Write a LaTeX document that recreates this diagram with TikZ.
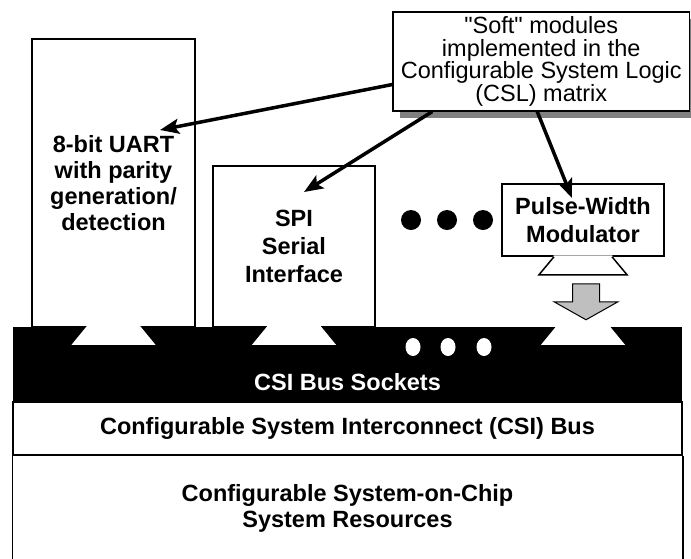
\documentclass[tikz,border=0pt]{standalone}
\usepackage{fontspec}
\setmainfont{Liberation Sans}
\usepackage{tikz}
\usetikzlibrary{arrows.meta, shadows}
\usepackage{xcolor}
\tikzstyle{module} = [rectangle, draw=black, line width=1.5pt, fill=white, align=center, inner sep=0pt, font=\bfseries\fontsize{23.5}{28}\selectfont]
\tikzstyle{softbox} = [rectangle, draw=black, line width=1.2pt, fill=white, align=center, inner sep=0pt, font=\fontsize{23.5}{22.5}\selectfont, drop shadow={opacity=1, fill=gray, shadow xshift=7pt, shadow yshift=-7pt}]
\tikzstyle{layer} = [rectangle, draw=black, line width=1.5pt, align=center, inner sep=0pt, font=\bfseries\fontsize{23.5}{26}\selectfont]
\tikzstyle{bartext} = [text=white, align=center, font=\bfseries\fontsize{23.5}{26}\selectfont]
\tikzstyle{arrow} = [line width=3.5pt, -{Stealth[length=19pt, width=15pt, inset=4pt]}]
\tikzstyle{fatarrow} = [draw=black, line width=1pt, fill=black!25]

\begin{document}
\begin{tikzpicture}[x=1pt, y=-1pt]
\useasboundingbox (0,0) rectangle (691,558);

% soft modules
\node (uart) [module, minimum width=163pt, minimum height=288pt, font=\bfseries\fontsize{23.5}{26}\selectfont] at (113.5,183) {8-bit UART\\with parity\\generation/\\detection};
\node (spi) [module, minimum width=162pt, minimum height=161pt] at (294,246.5) {SPI\\Serial\\Interface};
\node (pwm) [module, minimum width=162pt, minimum height=72pt] at (583,220) {Pulse-Width\\Modulator};
\fill[white] (pwm.south) +(-29,-1.5) -- +(-44,18) -- +(44,18) -- +(29,-1.5) -- cycle;
\draw[line width=1.5pt] (pwm.south) +(-29,0) -- +(-44,18) -- +(44,18) -- +(29,0);

% bus sockets
\node (bar) [rectangle, fill=black, minimum width=669pt, minimum height=75pt, inner sep=0pt] at (347.5,364.5) {};
\foreach \m in {uart,spi,pwm}
  \fill[white] (\m.south |- bar.north) +(-26,-1.5) -- +(26,-1.5) -- +(42,18) -- +(-42,18) -- cycle;
\foreach \dx in {413,448,484}
  \fill[white] (\dx,347) ellipse [x radius=7.5pt, y radius=9pt];
\node (socklabel) [bartext] at ([yshift=20pt]bar.south) {CSI Bus Sockets};

% more modules
\foreach \dx in {411,447,483}
  \fill[black] (\dx,220) circle [radius=10pt];

% plug-in arrow
\draw[fatarrow] (pwm.south) +(-10.5,27) -- +(16.5,27) -- +(16.5,45) -- +(35,45) -- +(3,63) -- +(-29,45) -- +(-10.5,45) -- cycle;

% bus and resources
\node (bus) [layer, minimum width=669pt, minimum height=53pt] at (347.5,428.5) {Configurable System Interconnect (CSI) Bus};
\draw[line width=1.5pt] (bus.south west) -- ++(0,120);
\draw[line width=1.5pt] (bus.south east) -- ++(0,120);
\node (res) [align=center, font=\bfseries\fontsize{23.5}{26}\selectfont] at (347.5,508) {Configurable System-on-Chip\\System Resources};

% CSL matrix note
\node (soft) [softbox, minimum width=296.5pt, minimum height=99pt] at (541.25,61.5) {\textquotedbl Soft\textquotedbl{} modules\\implemented in the\\Configurable System Logic\\(CSL) matrix};

\coordinate (uarttip) at (160,130);
\coordinate (spitip) at (304,192);
\coordinate (pwmtip) at (572,198);
\draw [arrow] ([yshift=-23pt]soft.west) -- (uarttip);
\draw [arrow] ([xshift=-109pt]soft.south) -- (spitip);
\draw [arrow] ([xshift=-4pt]soft.south) -- (pwmtip);

\end{tikzpicture}
\end{document}
